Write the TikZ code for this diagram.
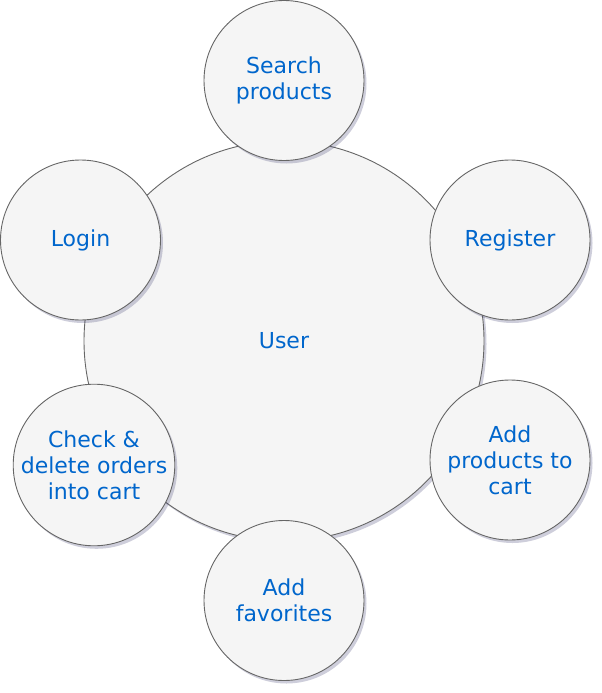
\documentclass[tikz,border=0pt]{standalone}
\usepackage{fontspec}
\setmainfont{DejaVu Sans}
\usetikzlibrary{shadows}
\definecolor{txtblue}{RGB}{0,102,204}
\definecolor{circfill}{RGB}{245,245,245}
\definecolor{circline}{RGB}{102,102,102}
\definecolor{shadowcol}{RGB}{60,60,110}
\begin{document}
\begin{tikzpicture}[x=1pt,y=-1pt,
  usecase/.style={circle, draw=circline, fill=circfill, line width=0.9pt,
    inner sep=0pt, minimum size=#1, align=center, text=txtblue,
    font=\fontsize{22}{26}\selectfont,
    drop shadow={shadow xshift=2.5pt, shadow yshift=-3pt, opacity=0.25, fill=shadowcol}},
  usecase/.default=160pt]
\useasboundingbox (0,0) rectangle (602,693);
\node[usecase=400pt] (user) at (284,341) {User};
\node[usecase] (search) at (284,80.5) {Search\\products};
\node[usecase] (login) at (80.5,240) {Login};
\node[usecase] (register) at (510,240) {Register};
\node[usecase] (addcart) at (510,460) {Add\\products to\\cart};
\node[usecase] (fav) at (284,600.5) {Add\\favorites};
\node[usecase] (check) at (94,465) {Check \&\\delete orders\\into cart};
\end{tikzpicture}
\end{document}
